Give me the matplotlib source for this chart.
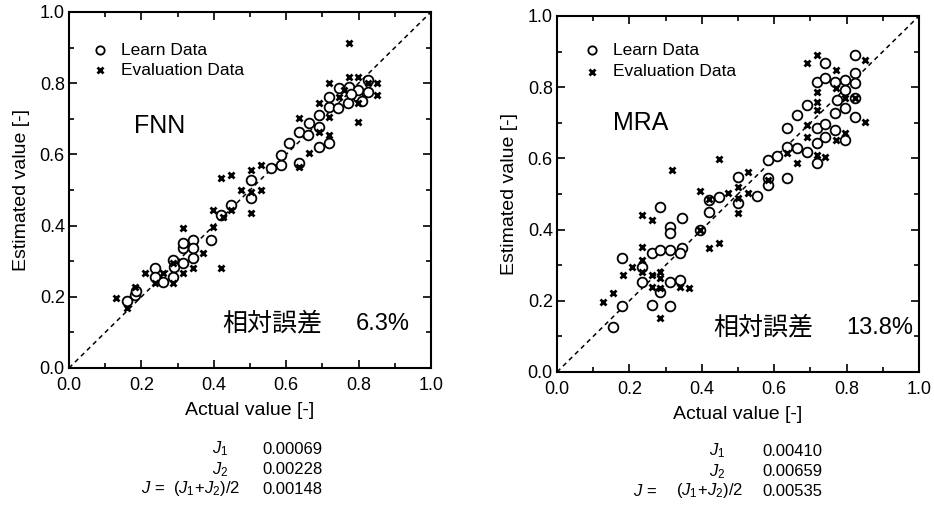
import matplotlib
matplotlib.use("Agg")
import matplotlib.pyplot as plt
from matplotlib.ticker import MultipleLocator

plt.rcParams['font.family'] = ['Liberation Sans', 'DejaVu Sans']
plt.rcParams['mathtext.fontset'] = 'custom'
plt.rcParams['mathtext.rm'] = 'Liberation Sans'
plt.rcParams['mathtext.it'] = 'Liberation Sans:italic'

# ---- FNN data (actual, estimated) ----
fnn_learn_x = [0.159, 0.182, 0.185, 0.237, 0.237, 0.26, 0.287, 0.287, 0.29, 0.315, 0.315, 0.315,
               0.342, 0.342, 0.342, 0.393, 0.42, 0.448, 0.503, 0.503, 0.558, 0.586, 0.586, 0.609,
               0.636, 0.636, 0.659, 0.664, 0.691, 0.719, 0.691, 0.691, 0.719, 0.719, 0.742, 0.747,
               0.77, 0.774, 0.797, 0.797, 0.825, 0.825, 0.78, 0.81]
fnn_learn_y = [0.187, 0.205, 0.215, 0.28, 0.257, 0.242, 0.257, 0.303, 0.285, 0.294, 0.336, 0.35,
               0.36, 0.336, 0.308, 0.36, 0.43, 0.458, 0.477, 0.528, 0.561, 0.57, 0.598, 0.633,
               0.575, 0.664, 0.655, 0.687, 0.622, 0.631, 0.678, 0.711, 0.734, 0.762, 0.729, 0.786,
               0.743, 0.79, 0.762, 0.781, 0.809, 0.776, 0.77, 0.75]
fnn_eval_x = [0.131, 0.159, 0.182, 0.209, 0.237, 0.26, 0.287, 0.287, 0.315, 0.315, 0.342, 0.37,
              0.42, 0.398, 0.398, 0.425, 0.42, 0.448, 0.448, 0.476, 0.503, 0.503, 0.503, 0.531,
              0.531, 0.636, 0.636, 0.664, 0.691, 0.691, 0.719, 0.719, 0.719, 0.747, 0.774, 0.774,
              0.797, 0.797, 0.825, 0.852, 0.852, 0.797, 0.76]
fnn_eval_y = [0.196, 0.168, 0.228, 0.266, 0.238, 0.266, 0.238, 0.294, 0.392, 0.266, 0.28, 0.322,
              0.28, 0.444, 0.397, 0.425, 0.533, 0.542, 0.444, 0.5, 0.556, 0.434, 0.495, 0.5,
              0.57, 0.566, 0.701, 0.603, 0.743, 0.664, 0.8, 0.655, 0.706, 0.762, 0.912, 0.818,
              0.692, 0.818, 0.8, 0.8, 0.767, 0.743, 0.78]

# ---- MRA data (actual, estimated) ----
mra_learn_x = [0.156, 0.179, 0.18, 0.234, 0.234, 0.262, 0.262, 0.284, 0.284, 0.284, 0.312, 0.312,
               0.312, 0.312, 0.312, 0.344, 0.344, 0.34, 0.34, 0.395, 0.421, 0.421, 0.448, 0.501,
               0.501, 0.552, 0.584, 0.584, 0.584, 0.607, 0.634, 0.634, 0.634, 0.662, 0.662, 0.69,
               0.69, 0.717, 0.717, 0.717, 0.717, 0.74, 0.74, 0.74, 0.74, 0.768, 0.768, 0.768,
               0.795, 0.795, 0.795, 0.795, 0.823, 0.823, 0.823, 0.823, 0.823, 0.773]
mra_learn_y = [0.126, 0.184, 0.319, 0.254, 0.296, 0.333, 0.188, 0.464, 0.343, 0.226, 0.343, 0.408,
               0.39, 0.254, 0.184, 0.432, 0.347, 0.333, 0.258, 0.399, 0.45, 0.483, 0.492, 0.549,
               0.474, 0.494, 0.596, 0.544, 0.525, 0.607, 0.684, 0.633, 0.544, 0.628, 0.722, 0.75,
               0.619, 0.816, 0.642, 0.586, 0.684, 0.867, 0.825, 0.698, 0.661, 0.816, 0.727, 0.68,
               0.82, 0.792, 0.741, 0.652, 0.89, 0.839, 0.811, 0.717, 0.769, 0.764]
mra_eval_x = [0.128, 0.156, 0.181, 0.206, 0.234, 0.234, 0.234, 0.234, 0.262, 0.262, 0.262, 0.284,
              0.284, 0.284, 0.284, 0.317, 0.34, 0.366, 0.395, 0.395, 0.421, 0.448, 0.448, 0.421,
              0.473, 0.501, 0.501, 0.501, 0.529, 0.529, 0.584, 0.634, 0.662, 0.69, 0.69, 0.69,
              0.717, 0.717, 0.717, 0.717, 0.717, 0.74, 0.772, 0.772, 0.772, 0.795, 0.795, 0.823,
              0.851, 0.851]
mra_eval_y = [0.198, 0.221, 0.272, 0.296, 0.441, 0.352, 0.315, 0.282, 0.427, 0.272, 0.24, 0.282,
              0.263, 0.235, 0.151, 0.567, 0.24, 0.235, 0.509, 0.399, 0.347, 0.361, 0.598, 0.485,
              0.502, 0.521, 0.488, 0.446, 0.563, 0.502, 0.539, 0.614, 0.586, 0.867, 0.694, 0.661,
              0.89, 0.786, 0.759, 0.736, 0.61, 0.605, 0.848, 0.797, 0.652, 0.769, 0.67, 0.769,
              0.876, 0.703]

fnn_err = "6.3%"
mra_err = "13.8%"
fnn_J = ["0.00069", "0.00228", "0.00148"]
mra_J = ["0.00410", "0.00659", "0.00535"]

W, H = 934, 507
fig = plt.figure(figsize=(W / 100, H / 100), dpi=100)


def px_axes(x0, y0, x1, y1):
    return fig.add_axes([x0 / W, 1 - y1 / H, (x1 - x0) / W, (y1 - y0) / H])


def draw(ax, lx, ly, ex, ey, name, err, name_pos, leg_mx, leg_tx, leg_y, cjk_x, err_x):
    ax.plot([0, 1], [0, 1], color='black', ls=(0, (3, 2.5)), lw=1.1, zorder=1)
    ax.plot(lx, ly, 'o', mfc='white', mec='black', ms=7, mew=1.3, ls='none', zorder=3)
    ax.plot(ex, ey, 'x', color='black', ms=5, mew=2, ls='none', zorder=4)
    ax.set_xlim(0, 1)
    ax.set_ylim(0, 1)
    ax.xaxis.set_major_locator(MultipleLocator(0.2))
    ax.yaxis.set_major_locator(MultipleLocator(0.2))
    ax.xaxis.set_minor_locator(MultipleLocator(0.1))
    ax.yaxis.set_minor_locator(MultipleLocator(0.1))
    ax.tick_params(which='both', direction='in', top=True, right=True, width=1.2, labelsize=13)
    ax.tick_params(which='major', length=6)
    ax.tick_params(which='minor', length=3.5)
    ax.tick_params(axis='x', pad=6.5)
    ax.tick_params(axis='y', pad=3)
    for s in ax.spines.values():
        s.set_linewidth(1.5)
    ax.set_xlabel('Actual value [-]', fontsize=14, labelpad=6)
    ax.set_ylabel('Estimated value [-]', fontsize=14, labelpad=7)

    # legend drawn by hand like the original
    ax.plot([leg_mx], [leg_y[0]], 'o', mfc='white', mec='black', ms=6, mew=1.3,
            transform=ax.transAxes, clip_on=False)
    ax.plot([leg_mx], [leg_y[1]], 'x', color='black', ms=4.5, mew=2,
            transform=ax.transAxes, clip_on=False)
    ax.text(leg_tx, leg_y[0], 'Learn Data', transform=ax.transAxes, fontsize=12.5, va='center')
    ax.text(leg_tx, leg_y[1], 'Evaluation Data', transform=ax.transAxes, fontsize=12.5, va='center')

    ax.text(name_pos[0], name_pos[1], name, transform=ax.transAxes, fontsize=18, va='center')
    ax.text(cjk_x, 0.125, '相対誤差', transform=ax.transAxes, fontsize=18, va='center',
            family=['Noto Sans CJK JP', 'DejaVu Sans'])
    ax.text(err_x, 0.125, err, transform=ax.transAxes, fontsize=17, va='center', ha='right')


ax1 = px_axes(69, 12, 431, 368)
draw(ax1, fnn_learn_x, fnn_learn_y, fnn_eval_x, fnn_eval_y, 'FNN', fnn_err,
     (0.18, 0.68), 0.085, 0.143, (0.893, 0.837), 0.424, 0.94)

ax2 = px_axes(557, 16, 919, 372)
draw(ax2, mra_learn_x, mra_learn_y, mra_eval_x, mra_eval_y, 'MRA', mra_err,
     (0.155, 0.70), 0.097, 0.155, (0.904, 0.843), 0.431, 0.983)

rows_y = [449, 470, 489]


def ftext(x, y, s, **kw):
    fig.text(x / W, 1 - y / H, s, fontsize=12, va='center', **kw)


# left table
ftext(228, rows_y[0], r'$J_1$', ha='right')
ftext(228, rows_y[1], r'$J_2$', ha='right')
ftext(240, rows_y[2], r'$J\,=\,\;(J_1\!+\!J_2)/2$', ha='right')
for v, yy in zip(fnn_J, rows_y):
    ftext(262, yy, v, ha='left')

# right table
ftext(725, rows_y[0] + 2, r'$J_1$', ha='right')
ftext(725, rows_y[1] + 2, r'$J_2$', ha='right')
ftext(657, rows_y[2] + 2, r'$J\,=$', ha='right')
ftext(743, rows_y[2] + 2, r'$(J_1\!+\!J_2)/2$', ha='right')
for v, yy in zip(mra_J, rows_y):
    ftext(762, yy + 2, v, ha='left')

fig.savefig('out.png', dpi=100)
